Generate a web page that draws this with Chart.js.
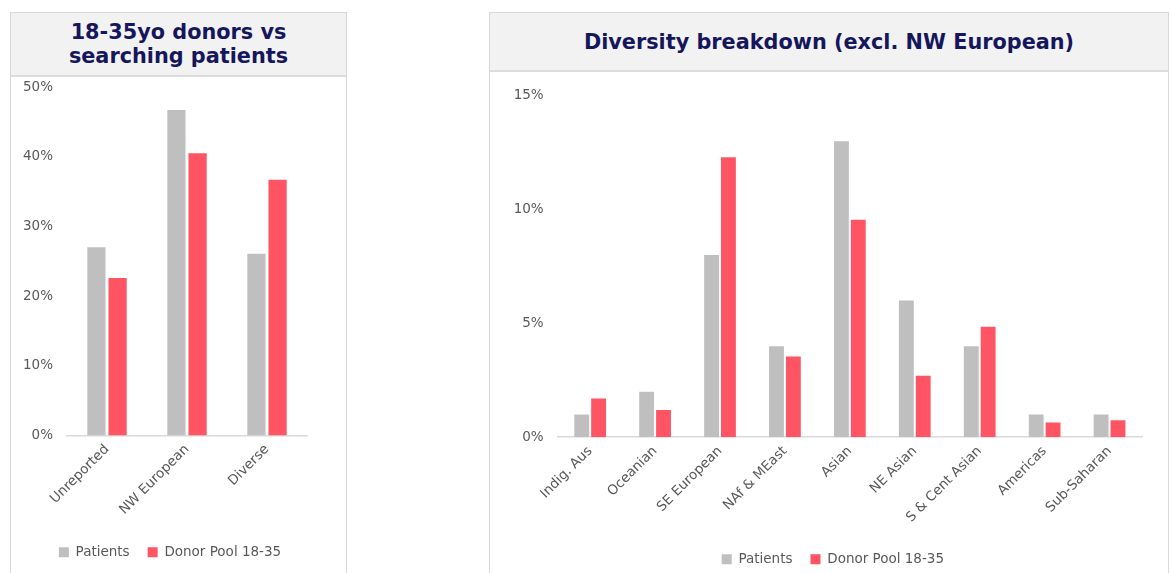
<!DOCTYPE html>
<html><head><meta charset="utf-8">
<script src="https://cdn.jsdelivr.net/npm/chart.js@4.4.0/dist/chart.umd.min.js"></script>
<style>
html,body{margin:0;padding:0;background:#fff;width:1170px;height:573px;overflow:hidden;position:relative;}
.panel{position:absolute;top:12px;height:600px;border:1px solid #d9d9d9;border-bottom:none;background:#fff;box-sizing:border-box;}
.title{position:absolute;left:0;right:0;top:0;background:#f2f2f2;border-bottom:2px solid #dcdcdc;color:#16165c;font:bold 20.8px "DejaVu Sans";text-align:center;display:flex;align-items:center;justify-content:center;line-height:24px;}
canvas{position:absolute;}
</style></head>
<body>
<div class="panel" style="left:10px;width:337px;"><div class="title" style="height:62px;">18-35yo donors vs<br>searching patients</div></div>
<div class="panel" style="left:489px;width:680px;"><div class="title" style="height:57px;">Diversity breakdown (excl. NW European)</div></div>
<canvas id="c1" width="334" height="510" style="left:11px;top:65px;"></canvas>
<canvas id="c2" width="678" height="510" style="left:490px;top:73px;"></canvas>
<script>
// ---- data ----
const seriesNames = ['Patients', 'Donor Pool 18-35'];
const leftCategories = ['Unreported', 'NW European', 'Diverse'];
const leftPatients = [27.0, 46.7, 26.1];
const leftDonors = [22.6, 40.5, 36.7];
const leftTicks = [0, 10, 20, 30, 40, 50];
const rightCategories = ['Indig. Aus', 'Oceanian', 'SE European', 'NAf & MEast', 'Asian', 'NE Asian', 'S & Cent Asian', 'Americas', 'Sub-Saharan'];
const rightPatients = [1.0, 2.0, 8.0, 4.0, 13.0, 6.0, 4.0, 1.0, 1.0];
const rightDonors = [1.7, 1.2, 12.3, 3.55, 9.55, 2.7, 4.85, 0.65, 0.75];
const rightTicks = [0, 5, 10, 15];

const GRAY = '#bfbfbf', RED = '#ff5463', TXT = '#595959', FONT = 'DejaVu Sans';

const legendShift = {
  id: 'legendShift',
  afterLayout(chart, args, opts) {
    const l = chart.legend;
    if (l && opts.dx) { l.left += opts.dx; l.right += opts.dx; }
  }
};

function makeChart(id, cats, pat, don, ticks, o) {
  return new Chart(document.getElementById(id), {
    type: 'bar',
    plugins: [legendShift],
    data: {
      labels: cats,
      datasets: [
        {label: seriesNames[0], data: pat, backgroundColor: GRAY, categoryPercentage: o.cat, barPercentage: o.bar},
        {label: seriesNames[1], data: don, backgroundColor: RED, categoryPercentage: o.cat, barPercentage: o.bar}
      ]
    },
    options: {
      responsive: false, animation: false, devicePixelRatio: 1,
      layout: {padding: {left: o.pl, right: o.pr, top: o.pt, bottom: o.pb}},
      plugins: {
        tooltip: {enabled: false},
        legendShift: {dx: o.dx},
        legend: {position: 'bottom', labels: {boxWidth: 10, boxHeight: 10, color: TXT, font: {family: FONT, size: 13.5}, padding: 18}}
      },
      scales: {
        x: {
          grid: {display: false, drawTicks: false},
          border: {display: true, color: '#d9d9d9', width: 1.5},
          ticks: {color: TXT, font: {family: FONT, size: 13.5}, minRotation: 45, maxRotation: 45, autoSkip: false, padding: 6},
          afterFit(s) { s.height = o.xh; }
        },
        y: {
          min: ticks[0], max: ticks[ticks.length - 1],
          afterBuildTicks(s) { s.ticks = ticks.map(v => ({value: v})); },
          grid: {display: false, drawTicks: false},
          border: {display: false},
          ticks: {color: TXT, font: {family: FONT, size: 13.5}, padding: 14, callback: v => v + '%'},
          afterFit(s) { s.width = o.yw; }
        }
      }
    }
  });
}

makeChart('c1', leftCategories, leftPatients, leftDonors, leftTicks,
  {cat: 0.53, bar: 0.86, pl: 10, pr: 38, pt: 0, pb: 6, xh: 92, yw: 46, dx: 6});
makeChart('c2', rightCategories, rightPatients, rightDonors, rightTicks,
  {cat: 0.52, bar: 0.88, pl: 21.7, pr: 26, pt: 22.7, pb: 7, xh: 97.3, yw: 46, dx: 6});
</script>
</body></html>
